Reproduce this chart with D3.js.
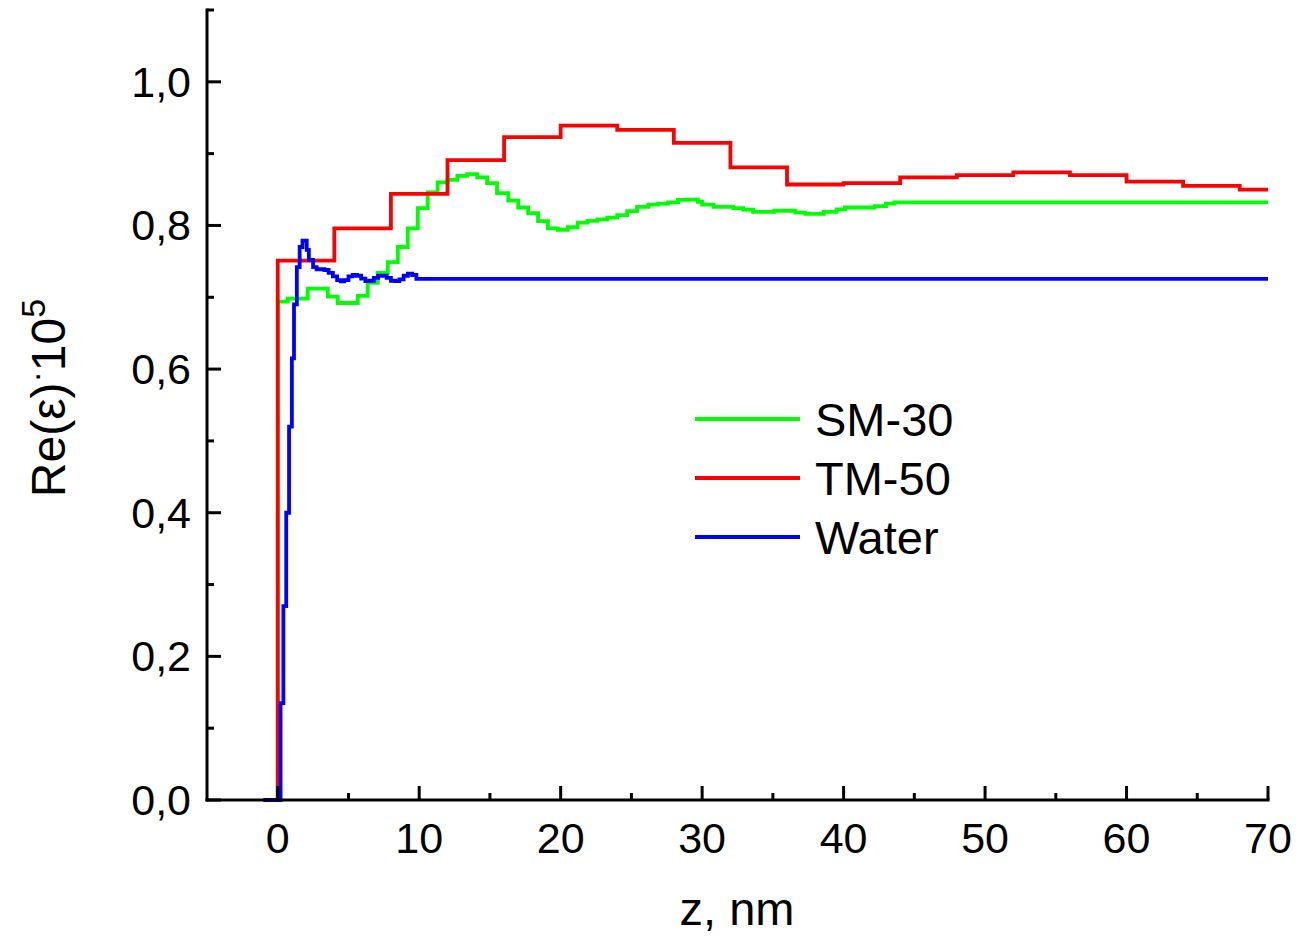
<!DOCTYPE html>
<html><head><meta charset="utf-8">
<script src="https://cdn.jsdelivr.net/npm/d3@7"></script>
<style>body{margin:0;background:#fff}svg{display:block}text{font-family:"Liberation Sans",Arial,sans-serif;fill:#000}</style>
</head><body>
<script>
// ---- data (z in nm, Re(eps)*1e5), step-after points ----
const seriesNames = ["SM-30", "TM-50", "Water"];
const seriesColors = ["#00ff00", "#ff0000", "#0000ff"];
const smZ = [-1,0,0.71,2.12,2.83,3.54,4.24,5.66,6.36,7.07,7.78,8.49,9.19,9.9,10.6,11.3,12.0,12.7,13.4,14.1,14.8,15.5,16.3,17.0,17.7,18.4,19.1,19.8,20.5,21.2,21.9,22.6,23.3,24.0,24.7,25.4,26.2,26.9,27.6,28.3,29.0,29.7,30.0,30.8,32.2,32.9,33.6,35.1,36.6,37.3,38.6,39.5,40.1,42.2,43.0,43.6,70];
const smV = [0,0.694,0.698,0.712,0.712,0.701,0.692,0.702,0.720,0.734,0.749,0.770,0.796,0.824,0.846,0.860,0.8635,0.869,0.8715,0.867,0.859,0.845,0.8345,0.825,0.817,0.806,0.796,0.794,0.7975,0.804,0.8065,0.8085,0.811,0.8145,0.820,0.826,0.829,0.8305,0.832,0.8355,0.836,0.833,0.829,0.826,0.824,0.822,0.819,0.8205,0.818,0.816,0.819,0.8225,0.825,0.827,0.8305,0.832,0.832];
const tmZ = [-1,0,4,8,12,16,20,24,28,32,36,40,44,48,52,56,60,64,68,70];
const tmV = [0,0.751,0.796,0.844,0.891,0.923,0.939,0.933,0.915,0.881,0.857,0.859,0.867,0.870,0.874,0.870,0.861,0.855,0.850,0.850];
const waZ = [-1,0.2,0.4,0.6,0.8,1.0,1.15,1.35,1.55,1.75,2.05,2.2,2.5,2.75,3.3,3.6,3.9,4.2,4.45,4.7,5.0,5.3,5.6,5.9,6.2,6.5,6.8,7.1,7.4,7.7,8.0,8.3,8.6,8.9,9.2,9.5,9.8,70];
const waV = [0,0.135,0.27,0.40,0.52,0.615,0.69,0.742,0.770,0.779,0.766,0.752,0.742,0.739,0.738,0.734,0.729,0.724,0.722,0.724,0.729,0.731,0.730,0.726,0.7225,0.723,0.727,0.730,0.730,0.727,0.723,0.7225,0.725,0.730,0.733,0.731,0.7255,0.7255];
const xMajor = [0,10,20,30,40,50,60,70];
const xMinor = [5,15,25,35,45,55,65];
const yMajor = [0,0.2,0.4,0.6,0.8,1.0];
const yMinor = [0.1,0.3,0.5,0.7,0.9,1.1];
const yTickLabels = ["0,0","0,2","0,4","0,6","0,8","1,0"];

const W = 1296, H = 937;
const svg = d3.select("body").append("svg").attr("width", W).attr("height", H);
const x = d3.scaleLinear().domain([-5, 70]).range([207, 1268]);
const y = d3.scaleLinear().domain([0, 1.1]).range([800, 10]);

const series = [
  {z: smZ, v: smV}, {z: tmZ, v: tmV}, {z: waZ, v: waV}
];
const line = d3.line().x(d => x(d[0])).y(d => y(d[1])).curve(d3.curveStepAfter);
series.forEach((s, i) => {
  svg.append("path").datum(s.z.map((z, j) => [z, s.v[j]]))
    .attr("d", line).attr("fill", "none").attr("stroke", seriesColors[i])
    .attr("stroke-width", 3.8).attr("stroke-linejoin", "miter");
});

// axes
const ax = svg.append("g").attr("stroke", "#000").attr("stroke-width", 3);
ax.append("line").attr("x1", x(-5)).attr("x2", x(70)).attr("y1", y(0)).attr("y2", y(0)).attr("stroke-linecap","square");
ax.append("line").attr("x1", x(-5)).attr("x2", x(-5)).attr("y1", y(0)).attr("y2", y(1.1)).attr("stroke-linecap","square");
xMajor.forEach(t => ax.append("line").attr("x1", x(t)).attr("x2", x(t)).attr("y1", y(0)).attr("y2", y(0) - 14));
xMinor.forEach(t => ax.append("line").attr("x1", x(t)).attr("x2", x(t)).attr("y1", y(0)).attr("y2", y(0) - 7));
yMajor.forEach(t => ax.append("line").attr("x1", x(-5)).attr("x2", x(-5) + 14).attr("y1", y(t)).attr("y2", y(t)));
yMinor.forEach(t => ax.append("line").attr("x1", x(-5)).attr("x2", x(-5) + 7).attr("y1", y(t)).attr("y2", y(t)));

xMajor.forEach(t => svg.append("text").attr("x", x(t)).attr("y", 853).attr("text-anchor", "middle")
  .attr("font-size", 43).text(t));
yMajor.forEach((t, i) => svg.append("text").attr("x", 191).attr("y", y(t) + 15).attr("text-anchor", "end")
  .attr("font-size", 43).text(yTickLabels[i]));

svg.append("text").attr("x", 737).attr("y", 925).attr("text-anchor", "middle").attr("font-size", 47).text("z, nm");
const yl = svg.append("text").attr("transform", "translate(65,398) rotate(-90)").attr("text-anchor", "middle").attr("font-size", 48);
yl.append("tspan").text("Re(ε)");
yl.append("tspan").attr("dy", -18).attr("font-size", 34).text("·");
yl.append("tspan").attr("dy", 18).text("10");
yl.append("tspan").attr("dy", -20).attr("font-size", 34).text("5");

// legend
const legY = [419, 478, 537];
seriesNames.forEach((n, i) => {
  svg.append("line").attr("x1", 695).attr("x2", 800).attr("y1", legY[i]).attr("y2", legY[i])
    .attr("stroke", seriesColors[i]).attr("stroke-width", 3.8);
  svg.append("text").attr("x", 815).attr("y", legY[i] + 17).attr("font-size", 47).text(n);
});
</script>
</body></html>
